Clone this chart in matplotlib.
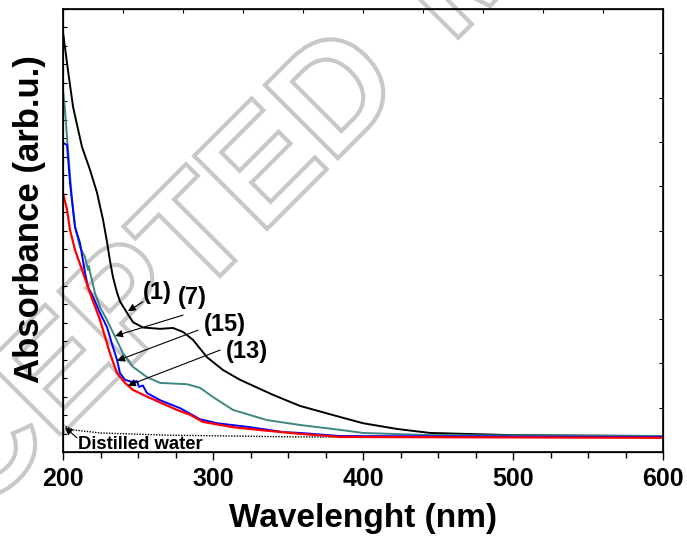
import numpy as np
import matplotlib
matplotlib.use("Agg")
import matplotlib.pyplot as plt
from matplotlib.textpath import TextPath
from matplotlib.patches import PathPatch
from matplotlib.font_manager import FontProperties
from matplotlib.transforms import Affine2D

plt.rcParams['font.family'] = ['Liberation Sans', 'DejaVu Sans']

# curve (1) - black
wl_1 = [200, 203.3, 206.7, 212.7, 218, 222.7, 226.7, 229.3, 231.3, 233.3, 236, 238, 242.7,
        246.7, 253.3, 264.7, 273.3, 280, 286.7, 296, 306.7, 318, 340, 358, 384.7, 400,
        422.7, 444.7, 466.7, 500, 600]
abs_1 = [0.948, 0.862, 0.779, 0.688, 0.637, 0.585, 0.524, 0.475, 0.432, 0.395, 0.360, 0.340,
         0.314, 0.293, 0.281, 0.278, 0.280, 0.271, 0.253, 0.214, 0.185, 0.163, 0.129, 0.104,
         0.079, 0.065, 0.052, 0.043, 0.041, 0.038, 0.036]

# curve (7) - teal
wl_7 = [200, 201.3, 203.3, 206, 208, 211.3, 214.7, 216.7, 217.3, 218, 219.3, 221.3, 224.7,
        229.3, 234.7, 240, 246.7, 256, 264.7, 282.7, 291.3, 300, 313.3, 336, 358, 384.7,
        400, 444.7, 600]
abs_7 = [0.817, 0.772, 0.682, 0.569, 0.508, 0.463, 0.440, 0.411, 0.420, 0.406, 0.388, 0.359,
         0.327, 0.298, 0.260, 0.223, 0.192, 0.169, 0.156, 0.153, 0.145, 0.124, 0.095, 0.072,
         0.061, 0.050, 0.043, 0.038, 0.036]

# curve (15) - blue
wl_15 = [200, 202.7, 204.7, 208, 211.3, 214.7, 216.7, 220, 224.7, 229.3, 233.3, 236, 238,
         241.3, 246, 249.3, 250.7, 253.3, 254.7, 256, 264.7, 278, 291.3, 302.7, 324.7, 346.7,
         358, 384.7, 600]
abs_15 = [0.698, 0.693, 0.607, 0.508, 0.472, 0.404, 0.372, 0.350, 0.314, 0.282, 0.237, 0.208,
          0.178, 0.163, 0.158, 0.160, 0.147, 0.150, 0.141, 0.133, 0.117, 0.099, 0.074, 0.065,
          0.056, 0.045, 0.043, 0.036, 0.034]

# curve (13) - red
wl_13 = [200, 202.7, 204.7, 208, 212.7, 218, 224.7, 231.3, 236, 241.3, 246.7, 258, 276,
         284.7, 293.3, 313.3, 336, 358, 384.7, 600]
abs_13 = [0.585, 0.546, 0.501, 0.456, 0.411, 0.359, 0.298, 0.223, 0.178, 0.156, 0.140, 0.122,
          0.095, 0.084, 0.068, 0.056, 0.048, 0.041, 0.034, 0.032]

# distilled water - dotted
wl_w = [200, 206.7, 224.7, 269.3, 358, 600]
abs_w = [0.061, 0.050, 0.043, 0.038, 0.034, 0.033]

fig = plt.figure(figsize=(6.87, 5.42), dpi=100)
ax = fig.add_axes([63 / 687, 90 / 542, 600 / 687, 443 / 542])
ax.patch.set_visible(False)

ax.plot(wl_w, abs_w, color='black', lw=1.0, ls=(0, (1, 1)))
ax.plot(wl_1, abs_1, color='black', lw=1.4)
ax.plot(wl_7, abs_7, color='#3f8580', lw=1.4)
ax.plot(wl_15, abs_15, color='#0000ff', lw=1.4)
ax.plot(wl_13, abs_13, color='#ff0000', lw=1.6)

ax.set_xlim(200, 600)
ax.set_ylim(0, 1)
ax.set_xticks([200, 300, 400, 500, 600])
ax.set_xticks(np.arange(200, 601, 25), minor=True)
ax.set_yticks(np.linspace(0, 1, 25))
ax.set_yticklabels([])
ax.tick_params(axis='x', which='major', direction='out', length=6, width=1, pad=5,
               labelsize=18)
ax.tick_params(axis='x', which='minor', direction='out', length=4, width=1)
ax.tick_params(axis='y', direction='in', length=3, width=0.8)
for lab in ax.get_xticklabels():
    lab.set_fontweight('bold')
for sp in ax.spines.values():
    sp.set_linewidth(1.2)

# top and right ticks
axt = ax.twiny()
axt.set_xlim(200, 600)
axt.set_xticks(np.arange(200, 601, 40))
axt.set_xticklabels([])
axt.tick_params(direction='in', length=3, width=0.8)
axr = ax.twinx()
axr.set_ylim(0, 1)
axr.set_yticks(np.arange(0, 1.01, 0.1))
axr.set_yticklabels([])
axr.tick_params(direction='in', length=3, width=0.8)

ax.text(0.5, -0.149, 'Wavelenght (nm)', transform=ax.transAxes, ha='center', va='center',
        fontsize=24, fontweight='bold')
ax.text(-0.055, 0.526, 'Absorbance (arb.u.)', transform=ax.transAxes, ha='center',
        va='center', rotation=90, fontsize=25, fontweight='bold')

arrow = dict(arrowstyle='-|>', color='black', lw=0.8, mutation_scale=11, shrinkA=0, shrinkB=0)
labels = ['(1)', '(7)', '(15)', '(13)']
label_xy = [(262.7, 0.361), (286, 0.348), (308, 0.287), (322.7, 0.226)]
tail_xy = [(253.3, 0.339), (280, 0.309), (290, 0.275), (304.7, 0.230)]
head_xy = [(243.3, 0.318), (234.7, 0.262), (236, 0.206), (243.3, 0.150)]
for lab, lxy, txy, hxy in zip(labels, label_xy, tail_xy, head_xy):
    ax.annotate('', xy=hxy, xytext=txy, arrowprops=arrow)
    ax.text(lxy[0], lxy[1], lab, ha='center', va='center', fontsize=17, fontweight='bold')

ax.annotate('', xy=(201.3, 0.056), xytext=(209.3, 0.032), arrowprops=arrow)
ax.text(210, 0.018, 'Distilled water', ha='left', va='center', fontsize=13.3,
        fontweight='bold')

# watermark outline, two words
wm_font = FontProperties(family='Liberation Sans', weight='bold')
for word, shift in [('ACCEPTED', 0), ('MANUSCRIPT', 887)]:
    tp = TextPath((shift, 0), word, size=150, prop=wm_font)
    tr = Affine2D().rotate_deg(45).translate(-176, -130)
    wm = PathPatch(tr.transform_path(tp), facecolor='none', edgecolor='#c8c8c8', lw=3,
                   transform=None, zorder=-1)
    fig.add_artist(wm)

fig.savefig('out.png', dpi=100)
